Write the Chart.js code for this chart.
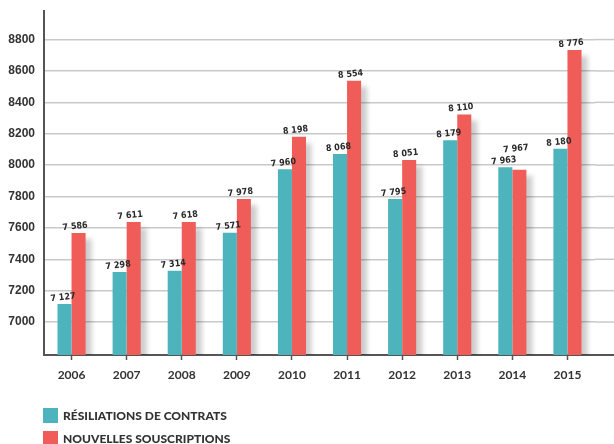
<!DOCTYPE html>
<html lang="fr">
<head>
<meta charset="UTF-8">
<title>Résiliations et nouvelles souscriptions</title>
<script src="https://cdn.jsdelivr.net/npm/chart.js@4"></script>
<style>
  body { margin: 0; background: #fff; }
  #cadre { position: relative; width: 614px; height: 444px; }
  .legende {
    position: absolute; left: 43px; height: 15px;
    display: flex; align-items: center;
    font: 900 12px Lato, sans-serif; color: #333;
  }
  .legende span { display: inline-block; width: 15px; height: 15px; margin-right: 5px; }
</style>
</head>
<body>
<div id="cadre">
  <canvas id="graphique" width="614" height="444"></canvas>
  <div class="legende" style="top:408px"><span style="background:#4db3bd"></span>RÉSILIATIONS DE CONTRATS</div>
  <div class="legende" style="top:431px"><span style="background:#f05d58"></span>NOUVELLES SOUSCRIPTIONS</div>
</div>

<script>
  // données
  const annees = ["2006", "2007", "2008", "2009", "2010", "2011", "2012", "2013", "2014", "2015"];
  // hauteur des barres
  const resiliations = [7115, 7319, 7327, 7569, 7973, 8070, 7784, 8158, 7986, 8104];
  const souscriptions = [7567, 7637, 7637, 7784, 8181, 8537, 8032, 8323, 7970, 8733];
  // textes affichés au-dessus des barres
  const libResiliations = ["7 127", "7 298", "7 314", "7 571", "7 960", "8 068", "7 795", "8 179", "7 963", "8 180"];
  const libSouscriptions = ["7 586", "7 611", "7 618", "7 978", "8 198", "8 554", "8 051", "8 110", "7 967", "8 776"];
  const graduations = [7000, 7200, 7400, 7600, 7800, 8000, 8200, 8400, 8600, 8800];

  const couleurGrille = '#c9c9c9';
  const couleurAxe = '#555';

  // ombre grise à droite des barres rouges
  const ombre = {
    id: 'ombre',
    beforeDatasetDraw(chart, args) {
      if (args.index !== 1) return;
      const ctx = chart.ctx;
      ctx.save();
      ctx.shadowColor = 'rgba(0,0,0,0.2)';
      ctx.shadowBlur = 5;
      ctx.shadowOffsetX = 6;
      ctx.shadowOffsetY = 6;
    },
    afterDatasetDraw(chart, args) {
      if (args.index === 1) chart.ctx.restore();
    }
  };

  // valeurs au-dessus des barres, légèrement inclinées
  function ecrire(ctx, texte, x, y) {
    ctx.save();
    ctx.translate(x, y);
    ctx.rotate(-6 * Math.PI / 180);
    ctx.fillText(texte, 0, 0);
    ctx.restore();
  }

  const etiquettes = {
    id: 'etiquettes',
    afterDatasetsDraw(chart) {
      const ctx = chart.ctx;
      const barresA = chart.getDatasetMeta(0).data;
      const barresB = chart.getDatasetMeta(1).data;
      ctx.save();
      ctx.font = 'bold 9px "DejaVu Sans Condensed", "Liberation Sans Narrow", sans-serif';
      ctx.fillStyle = '#2a2a2a';
      ctx.textAlign = 'center';
      ctx.textBaseline = 'bottom';
      for (let i = 0; i < annees.length; i++) {
        const yA = barresA[i].y - 2;
        let yB = barresB[i].y - 2;
        if (Math.abs(yB - yA) < 12) yB = yA - 12;
        ecrire(ctx, libResiliations[i], barresA[i].x - 1, yA);
        ecrire(ctx, libSouscriptions[i], barresB[i].x - 3, yB);
      }
      ctx.restore();
    }
  };

  // la grille et l'axe horizontal continuent jusqu'au bord droit
  const prolongement = {
    id: 'prolongement',
    beforeDatasetsDraw(chart) {
      const ctx = chart.ctx;
      const zone = chart.chartArea;
      const y = chart.scales.y;
      ctx.save();
      ctx.strokeStyle = couleurGrille;
      ctx.lineWidth = 1.5;
      graduations.forEach(v => {
        const py = y.getPixelForValue(v);
        ctx.beginPath();
        ctx.moveTo(zone.right, py);
        ctx.lineTo(chart.width, py);
        ctx.stroke();
      });
      ctx.strokeStyle = couleurAxe;
      ctx.lineWidth = 2;
      ctx.beginPath();
      ctx.moveTo(zone.right - 1, zone.bottom);
      ctx.lineTo(chart.width, zone.bottom);
      ctx.stroke();
      ctx.restore();
    }
  };

  const graphique = new Chart(document.getElementById('graphique'), {
    type: 'bar',
    data: {
      labels: annees,
      datasets: [
        {
          label: 'Résiliations de contrats',
          data: resiliations,
          backgroundColor: '#4db3bd'
        },
        {
          label: 'Nouvelles souscriptions',
          data: souscriptions,
          backgroundColor: '#f05d58'
        }
      ]
    },
    options: {
      responsive: false,
      animation: false,
      layout: { padding: { top: 11, right: 19, bottom: 60, left: 0 } },
      datasets: {
        bar: { barPercentage: 1, categoryPercentage: 0.51 }
      },
      scales: {
        x: {
          afterFit: s => { s.height = 29; },
          grid: {
            display: true,
            drawOnChartArea: false,
            drawTicks: true,
            tickLength: 5,
            tickColor: couleurAxe,
            tickWidth: 1.5,
            offset: false
          },
          border: { color: couleurAxe, width: 2 },
          ticks: {
            color: '#333',
            padding: 8,
            font: { family: 'Lato', size: 12, weight: 'bold' }
          }
        },
        y: {
          min: 6790,
          max: 8982,
          afterFit: s => { s.width = 44; s.paddingTop = 0; s.paddingBottom = 0; },
          afterBuildTicks: s => { s.ticks = graduations.map(v => ({ value: v })); },
          grid: { color: couleurGrille, lineWidth: 1.5, drawTicks: false },
          border: { color: couleurAxe, width: 2 },
          ticks: {
            color: '#333',
            padding: 9,
            font: { family: 'Liberation Sans', size: 12, weight: 'bold' },
            callback: v => String(v)
          }
        }
      },
      plugins: {
        legend: { display: false },
        tooltip: { enabled: false }
      }
    },
    plugins: [prolongement, ombre, etiquettes]
  });
</script>
</body>
</html>
